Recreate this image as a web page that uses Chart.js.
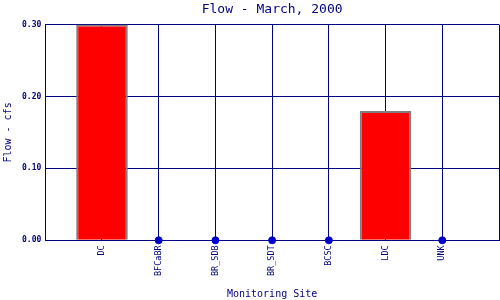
<!DOCTYPE html>
<html>
<head>
<meta charset="utf-8">
<script src="https://cdn.jsdelivr.net/npm/chart.js@4.4.0/dist/chart.umd.min.js"></script>
<style>
  body { margin: 0; background: #fff; }
  #wrap { width: 500px; height: 300px; }
</style>
</head>
<body>
<div id="wrap"><canvas id="myChart"></canvas></div>
<script>
// sites and flow values (cfs)
var sites = ["DC", "BFCaBR", "BR_SDB", "BR_SDT", "BCSC", "LDC", "UNK"];
var flow = [0.30, 0, 0, 0, 0, 0.18, 0];
var yTicks = [0, 0.10, 0.20, 0.30];

var navy = '#000080';
var mono = "'DejaVu Sans Mono', 'Liberation Mono', monospace";

// blank slot at each end so the axis runs one category past the first/last site
var labels = [''].concat(sites).concat(['']);
var barData = [null].concat(flow).concat([null]);
var dotData = [null].concat(flow.map(function (v) { return v === 0 ? 0 : null; })).concat([null]);

var ctx = document.getElementById("myChart").getContext('2d');
var myChart = new Chart(ctx, {
    type: 'bar',
    data: {
        labels: labels,
        datasets: [{
            label: 'Flow',
            data: barData,
            backgroundColor: '#ff0000',
            borderColor: '#808080',
            borderWidth: 2,
            barPercentage: 0.91,
            categoryPercentage: 1.0,
            order: 2
        }, {
            type: 'line',
            label: 'zero',
            data: dotData,
            showLine: false,
            clip: false,
            pointRadius: 3.5,
            pointHoverRadius: 3.5,
            pointBackgroundColor: '#0000cc',
            pointBorderColor: '#0000cc',
            order: 1
        }]
    },
    options: {
        responsive: true,
        maintainAspectRatio: false,
        animation: false,
        layout: { autoPadding: false, padding: { left: 2, right: 1, top: 2, bottom: 0 } },
        plugins: {
            legend: { display: false },
            tooltip: { enabled: false },
            title: { display: false }
        },
        scales: {
            x: {
                type: 'category',
                offset: false,
                afterFit: function (scale) { scale.paddingLeft = 0; scale.paddingRight = 0; },
                grid: { color: navy, lineWidth: 1, drawTicks: false, offset: false },
                border: { color: navy, width: 1 },
                ticks: {
                    color: navy,
                    font: { family: mono, size: 8.5 },
                    minRotation: 90,
                    maxRotation: 90,
                    autoSkip: false,
                    padding: 5
                },
                title: {
                    display: true,
                    text: 'Monitoring Site',
                    color: navy,
                    font: { family: mono, size: 10 },
                    padding: { top: 7, bottom: 0 }
                }
            },
            x2: {
                type: 'category',
                position: 'top',
                offset: false,
                afterFit: function (scale) { scale.paddingLeft = 0; scale.paddingRight = 0; },
                grid: { display: false, drawTicks: false },
                border: { display: false },
                ticks: { display: false },
                title: {
                    display: true,
                    text: 'Flow - March, 2000',
                    color: navy,
                    font: { family: mono, size: 13 },
                    padding: { top: 0, bottom: 7 }
                }
            },
            y: {
                min: 0,
                max: 0.30,
                afterBuildTicks: function (axis) {
                    axis.ticks = yTicks.map(function (v) { return { value: v }; });
                },
                grid: { color: navy, lineWidth: 1, drawTicks: false },
                border: { color: navy, width: 1 },
                ticks: {
                    color: navy,
                    font: { family: mono, size: 8, weight: 'bold' },
                    padding: 4,
                    callback: function (v) { return Number(v).toFixed(2); }
                },
                title: {
                    display: true,
                    text: 'Flow - cfs',
                    color: navy,
                    font: { family: mono, size: 10 },
                    padding: { top: 0, bottom: 4 }
                }
            }
        }
    }
});
</script>
</body>
</html>
